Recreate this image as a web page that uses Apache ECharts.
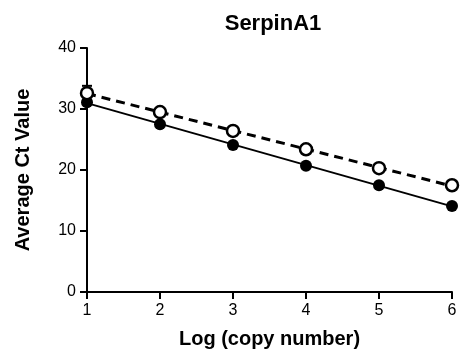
<!DOCTYPE html>
<html><head><meta charset="utf-8">
<script src="https://cdn.jsdelivr.net/npm/echarts@6/dist/echarts.min.js"></script>
<style>html,body{margin:0;padding:0;background:#fff}#c{width:461px;height:356px}</style>
</head><body><div id="c"></div>
<script>
var logCopy = [1, 2, 3, 4, 5, 6];
var solidCt = [31.1, 27.5, 24.1, 20.7, 17.5, 14.1];
var openCt = [32.6, 29.5, 26.4, 23.4, 20.3, 17.5];
var openErrLow = [31.4, 29.2, 25.7, 23.2, 20.1, 17.3];
var openErrHigh = [33.8, 29.8, 27.0, 23.6, 20.5, 17.7];
var yTicks = [0, 10, 20, 30, 40];

function fit(xs, ys) {
  var n = xs.length, sx = 0, sy = 0, sxx = 0, sxy = 0;
  for (var i = 0; i < n; i++) { sx += xs[i]; sy += ys[i]; sxx += xs[i]*xs[i]; sxy += xs[i]*ys[i]; }
  var b = (n*sxy - sx*sy) / (n*sxx - sx*sx), a = (sy - b*sx) / n;
  return [[xs[0], a + b*xs[0]], [xs[n-1], a + b*xs[n-1]]];
}
function pts(xs, ys) { return xs.map(function (x, i) { return [x, ys[i]]; }); }

var font = 'Liberation Sans, Arial, sans-serif';
var chart = echarts.init(document.getElementById('c'));
chart.setOption({
  animation: false,
  title: { text: 'SerpinA1', left: 268, top: 8, textAlign: 'center',
    textStyle: { fontFamily: font, fontSize: 22, fontWeight: 'bold', color: '#000' } },
  grid: { left: 87, right: 9, top: 48, bottom: 64 },
  xAxis: { type: 'value', min: 1, max: 6, interval: 1,
    name: 'Log (copy number)', nameLocation: 'middle', nameGap: 37,
    nameTextStyle: { fontFamily: font, fontSize: 20, fontWeight: 'bold', color: '#000' },
    axisLine: { lineStyle: { color: '#000', width: 2 } },
    axisTick: { length: 7, lineStyle: { color: '#000', width: 2 } },
    axisLabel: { fontFamily: font, fontSize: 16, color: '#000', margin: 11 },
    splitLine: { show: false } },
  yAxis: { type: 'value', min: yTicks[0], max: yTicks[yTicks.length-1], interval: 10,
    name: 'Average Ct Value', nameLocation: 'middle', nameGap: 54,
    nameTextStyle: { fontFamily: font, fontSize: 20, fontWeight: 'bold', color: '#000' },
    axisLine: { show: true, lineStyle: { color: '#000', width: 2 } },
    axisTick: { show: true, length: 7, lineStyle: { color: '#000', width: 2 } },
    axisLabel: { fontFamily: font, fontSize: 16, color: '#000', margin: 11 },
    splitLine: { show: false } },
  series: [
    { type: 'line', data: fit(logCopy, openCt), symbol: 'none',
      lineStyle: { color: '#000', width: 3, type: [9, 6] }, z: 2 },
    { type: 'line', data: fit(logCopy, solidCt), symbol: 'none',
      lineStyle: { color: '#000', width: 2 }, z: 2 },
    { type: 'custom', z: 3,
      data: logCopy.map(function (x, i) { return [x, openErrLow[i], openErrHigh[i]]; }),
      renderItem: function (params, api) {
        var lo = api.coord([api.value(0), api.value(1)]);
        var hi = api.coord([api.value(0), api.value(2)]);
        var w = 5;
        var st = { stroke: '#000', lineWidth: 2 };
        return { type: 'group', children: [
          { type: 'line', shape: { x1: lo[0], y1: lo[1], x2: hi[0], y2: hi[1] }, style: st },
          { type: 'line', shape: { x1: hi[0]-w, y1: hi[1], x2: hi[0]+w, y2: hi[1] }, style: st },
          { type: 'line', shape: { x1: lo[0]-w, y1: lo[1], x2: lo[0]+w, y2: lo[1] }, style: st }
        ] };
      } },
    { type: 'scatter', data: pts(logCopy, solidCt), symbol: 'circle', symbolSize: 12,
      itemStyle: { color: '#000', opacity: 1 }, z: 4 },
    { type: 'scatter', data: pts(logCopy, openCt), symbol: 'circle', symbolSize: 12,
      itemStyle: { color: '#fff', borderColor: '#000', borderWidth: 2.5, opacity: 1 }, z: 5 }
  ]
});
</script></body></html>
